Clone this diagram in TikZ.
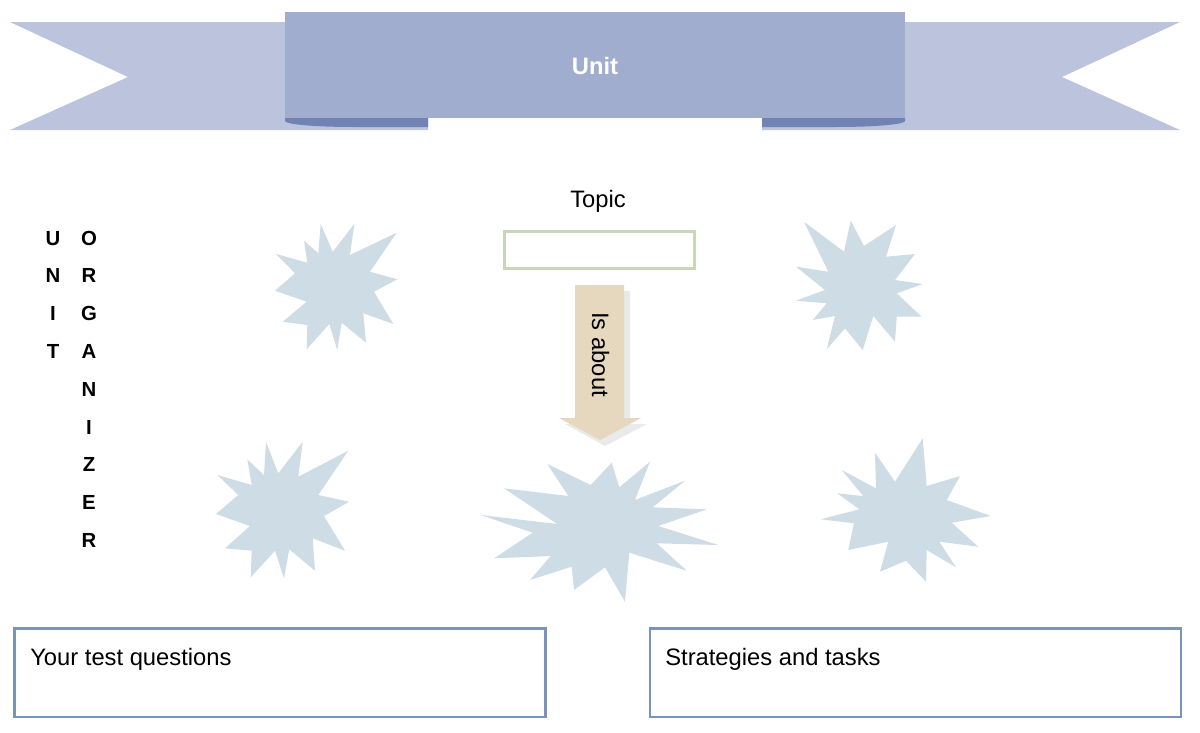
\documentclass[tikz,border=0pt]{standalone}
\usepackage{fontspec}
\setmainfont{Liberation Sans}

\definecolor{ribbonlight}{HTML}{BCC4DD}
\definecolor{ribbonmid}{HTML}{A1ADCF}
\definecolor{ribbondark}{HTML}{7182B4}
\definecolor{burstblue}{HTML}{CEDCE5}
\definecolor{topicgreen}{HTML}{CAD6B8}
\definecolor{arrowtan}{HTML}{E6D7BF}
\definecolor{arrowshade}{HTML}{EAEAEA}
\definecolor{boxblue}{HTML}{7A93BD}

\tikzset{
    burst/.style={fill=burstblue},
    letter/.style={font=\fontsize{14.5}{16}\selectfont\bfseries, inner sep=0pt, anchor=base},
    plain text/.style={font=\fontsize{16.9}{20}\selectfont, inner sep=0pt, anchor=base west},
    answer box/.style={draw=boxblue, line width=1.9pt},
}

\begin{document}
\begin{tikzpicture}[x=0.025cm, y=-0.025cm]
            \useasboundingbox (0,0) rectangle (1200,732);

            % banner
            \fill[ribbonlight] (10,22) -- (428,22) -- (428,130) -- (10,130) -- (128,77) -- cycle;
            \fill[ribbonlight] (1180,22) -- (762,22) -- (762,130) -- (1180,130) -- (1062,77) -- cycle;
            \fill[ribbondark] (285,118) -- (428,118) -- (428,127) -- (356,127)
                .. controls (310,127) and (285,124) .. (285,121) -- cycle;
            \fill[ribbondark] (905,118) -- (762,118) -- (762,127) -- (834,127)
                .. controls (880,127) and (905,124) .. (905,121) -- cycle;
            \fill[ribbonmid] (285,12) rectangle (905,118);
            \node[plain text, anchor=base, text=white, font=\fontsize{16.9}{20}\selectfont\bfseries] (unit) at (595,74) {Unit};

            % side title
            \foreach \ch [count=\i from 0] in {U,N,I,T}
                \node[letter] (left-\i) at (53,{245+37.8*\i}) {\ch};
            \foreach \ch [count=\i from 0] in {O,R,G,A,N,I,Z,E,R}
                \node[letter] (right-\i) at (89,{245+37.8*\i}) {\ch};

            % topic
            \node[plain text] (topic) at (570,207) {Topic};
            \draw[topicgreen, line width=1.9pt] (504.5,231.5) rectangle (694.5,268.5);

            \fill[arrowshade] (581,291) -- (630,291) -- (630,424) -- (647,424) -- (605,446) -- (565,424) -- (581,424) -- cycle;
            \fill[arrowtan] (575,285) -- (624,285) -- (624,418) -- (641,418) -- (600,440) -- (559,418) -- (575,418) -- cycle;
            \node[plain text, rotate=-90] (about) at (592,312) {Is about};

            % bursts
            \fill[burst] (320.7,224) -- (332.7,251.7) -- (354.3,224) -- (350,255) -- (396.7,232.7) -- (370,271.7)
                -- (397.3,279.3) -- (374,291.7) -- (393.3,324) -- (363.3,313.3) -- (366,342.7) -- (341.7,322.7)
                -- (337.3,350) -- (329.3,324) -- (306.7,349.3) -- (307.3,325) -- (282.7,321.7) -- (306.7,301.7)
                -- (275,290.7) -- (295,273.3) -- (276,254) -- (307.3,262.7) -- (304,240.7) -- (318.3,253.3) -- cycle;
            \fill[burst] (804,221.7) -- (844,251.7) -- (850.7,220.7) -- (864,246) -- (896,225) -- (886,256.7)
                -- (915,254) -- (895,280) -- (922.7,284) -- (896.7,293.3) -- (921.7,316.7) -- (896.7,316.7)
                -- (895,341.7) -- (873.3,316) -- (862.7,350) -- (845,328.3) -- (826.7,349.3) -- (835,316)
                -- (812.7,320) -- (826.7,303.3) -- (796,300.7) -- (825,290) -- (796,266.7) -- (828.3,271.7) -- cycle;
            \fill[burst] (266,441.7) -- (278.3,473.3) -- (302.7,441.7) -- (298.3,476.7) -- (348.3,450.7) -- (318.3,495)
                -- (349.3,501.7) -- (324,516) -- (345,550.7) -- (312.7,538.3) -- (315,570.7) -- (289.3,549.3)
                -- (284,578.3) -- (275,550.7) -- (250.7,577.3) -- (251.7,550.7) -- (225,548.3) -- (250,526)
                -- (216,514) -- (238.3,495) -- (217.3,475) -- (251.7,485) -- (247.3,459.3) -- (264,475) -- cycle;
            \fill[burst] (611.7,462.7) -- (619.3,487.3) -- (650,461.7) -- (635,500) -- (685,480.7) -- (652.7,507.3)
                -- (706.7,509.3) -- (658.3,526) -- (718.3,545) -- (656.7,543.3) -- (686.7,570.7) -- (629.3,552.7)
                -- (625,601.7) -- (605,567.3) -- (574,590) -- (571.7,566.7) -- (530,580) -- (550.7,556)
                -- (494,558.3) -- (532.7,532.7) -- (480.7,515) -- (557.3,524) -- (504,488.3) -- (568.3,496)
                -- (547.3,464) -- (590.7,485) -- cycle;
            \fill[burst] (922.7,438.3) -- (926.7,486) -- (960,476) -- (946.7,500) -- (990.7,516) -- (951.7,522.7)
                -- (978.3,546.7) -- (939.3,541.7) -- (956,567.3) -- (926.7,550) -- (926,581.7) -- (906,560.7)
                -- (880,571.7) -- (888.3,541.7) -- (848.3,550) -- (854,523.3) -- (820.7,519.3) -- (859.3,509.3)
                -- (837.3,493.3) -- (863.3,496) -- (841.7,470) -- (876,488.3) -- (875,452.7) -- (895,481.7) -- cycle;

            % answer boxes
            \draw[answer box] (14.5,628.5) rectangle (545.5,717);
            \node[plain text] (questions) at (30,665) {Your test questions};
            \draw[answer box] (650,628.5) rectangle (1181,717);
            \node[plain text] (strategies) at (665,665) {Strategies and tasks};
        \end{tikzpicture}
\end{document}
